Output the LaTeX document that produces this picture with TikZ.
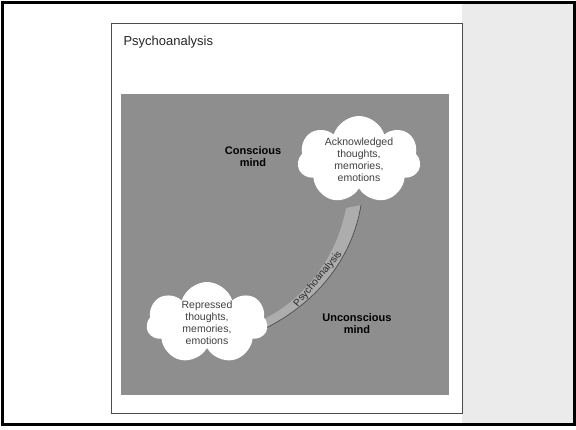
\documentclass[tikz,border=0pt]{standalone}
\usepackage{fontspec}
\setmainfont{Liberation Sans}
\usetikzlibrary{shapes.symbols}
\definecolor{fieldgray}{HTML}{8E8E8E}
\definecolor{bandgray}{HTML}{ADADAD}
\definecolor{stripgray}{HTML}{EBEBEB}
\begin{document}
\begin{tikzpicture}[x=1pt,y=-1pt,
  thought/.style={cloud, cloud puffs=7, cloud puff arc=145, cloud ignores aspect,
    fill=white, inner sep=0pt, align=center,
    font=\fontsize{10.5}{12}\selectfont, text=black!75},
  region/.style={font=\bfseries\fontsize{11}{12}\selectfont, align=center, text=black},
]
\useasboundingbox (0,0) rectangle (576,429);
% page background and outer frame
\fill[white] (0,0) rectangle (576,429);
\fill[stripgray] (462,2) rectangle (574,424);
\draw[line width=3pt] (2,2) rectangle (574,424);
% white panel
\draw[black!70, line width=0.8pt, fill=white] (111.5,23.5) rectangle (462,413.5);
\node[anchor=base west, font=\fontsize{13}{15}\selectfont, text=black!85] (title) at (120,45) {Psychoanalysis};
% grey field of the mind
\fill[fieldgray] (121,94) rectangle (449,395);
% crescent band linking the two clouds
\coordinate (bt1) at (361,205);
\coordinate (bt2) at (346,208);
\coordinate (bb1) at (262,330);
\coordinate (bb2) at (262,320);
\fill[bandgray] (bt1) .. controls (353,255) and (320,302) .. (bb1)
  -- (bb2) .. controls (300,302) and (336,262) .. (bt2) -- cycle;
\draw[black!70, line width=0.7pt] (bt1) .. controls (353,255) and (320,302) .. (bb1);
% thought clouds
\node[thought, minimum width=123pt, minimum height=88pt] (ack) at (359,160)
  {Acknowledged\\thoughts,\\memories,\\emotions};
\node[thought, minimum width=121pt, minimum height=82pt] (rep) at (207,323)
  {Repressed\\thoughts,\\memories,\\emotions};
% region labels
\node[region] (con) at (253,157) {Conscious\\mind};
\node[region] (unc) at (357,324) {Unconscious\\mind};
% label of the band
\node[rotate=50, font=\fontsize{10}{12}\selectfont, text=black!85, inner sep=0pt] (band) at (318,279) {Psychoanalysis};
\end{tikzpicture}
\end{document}
